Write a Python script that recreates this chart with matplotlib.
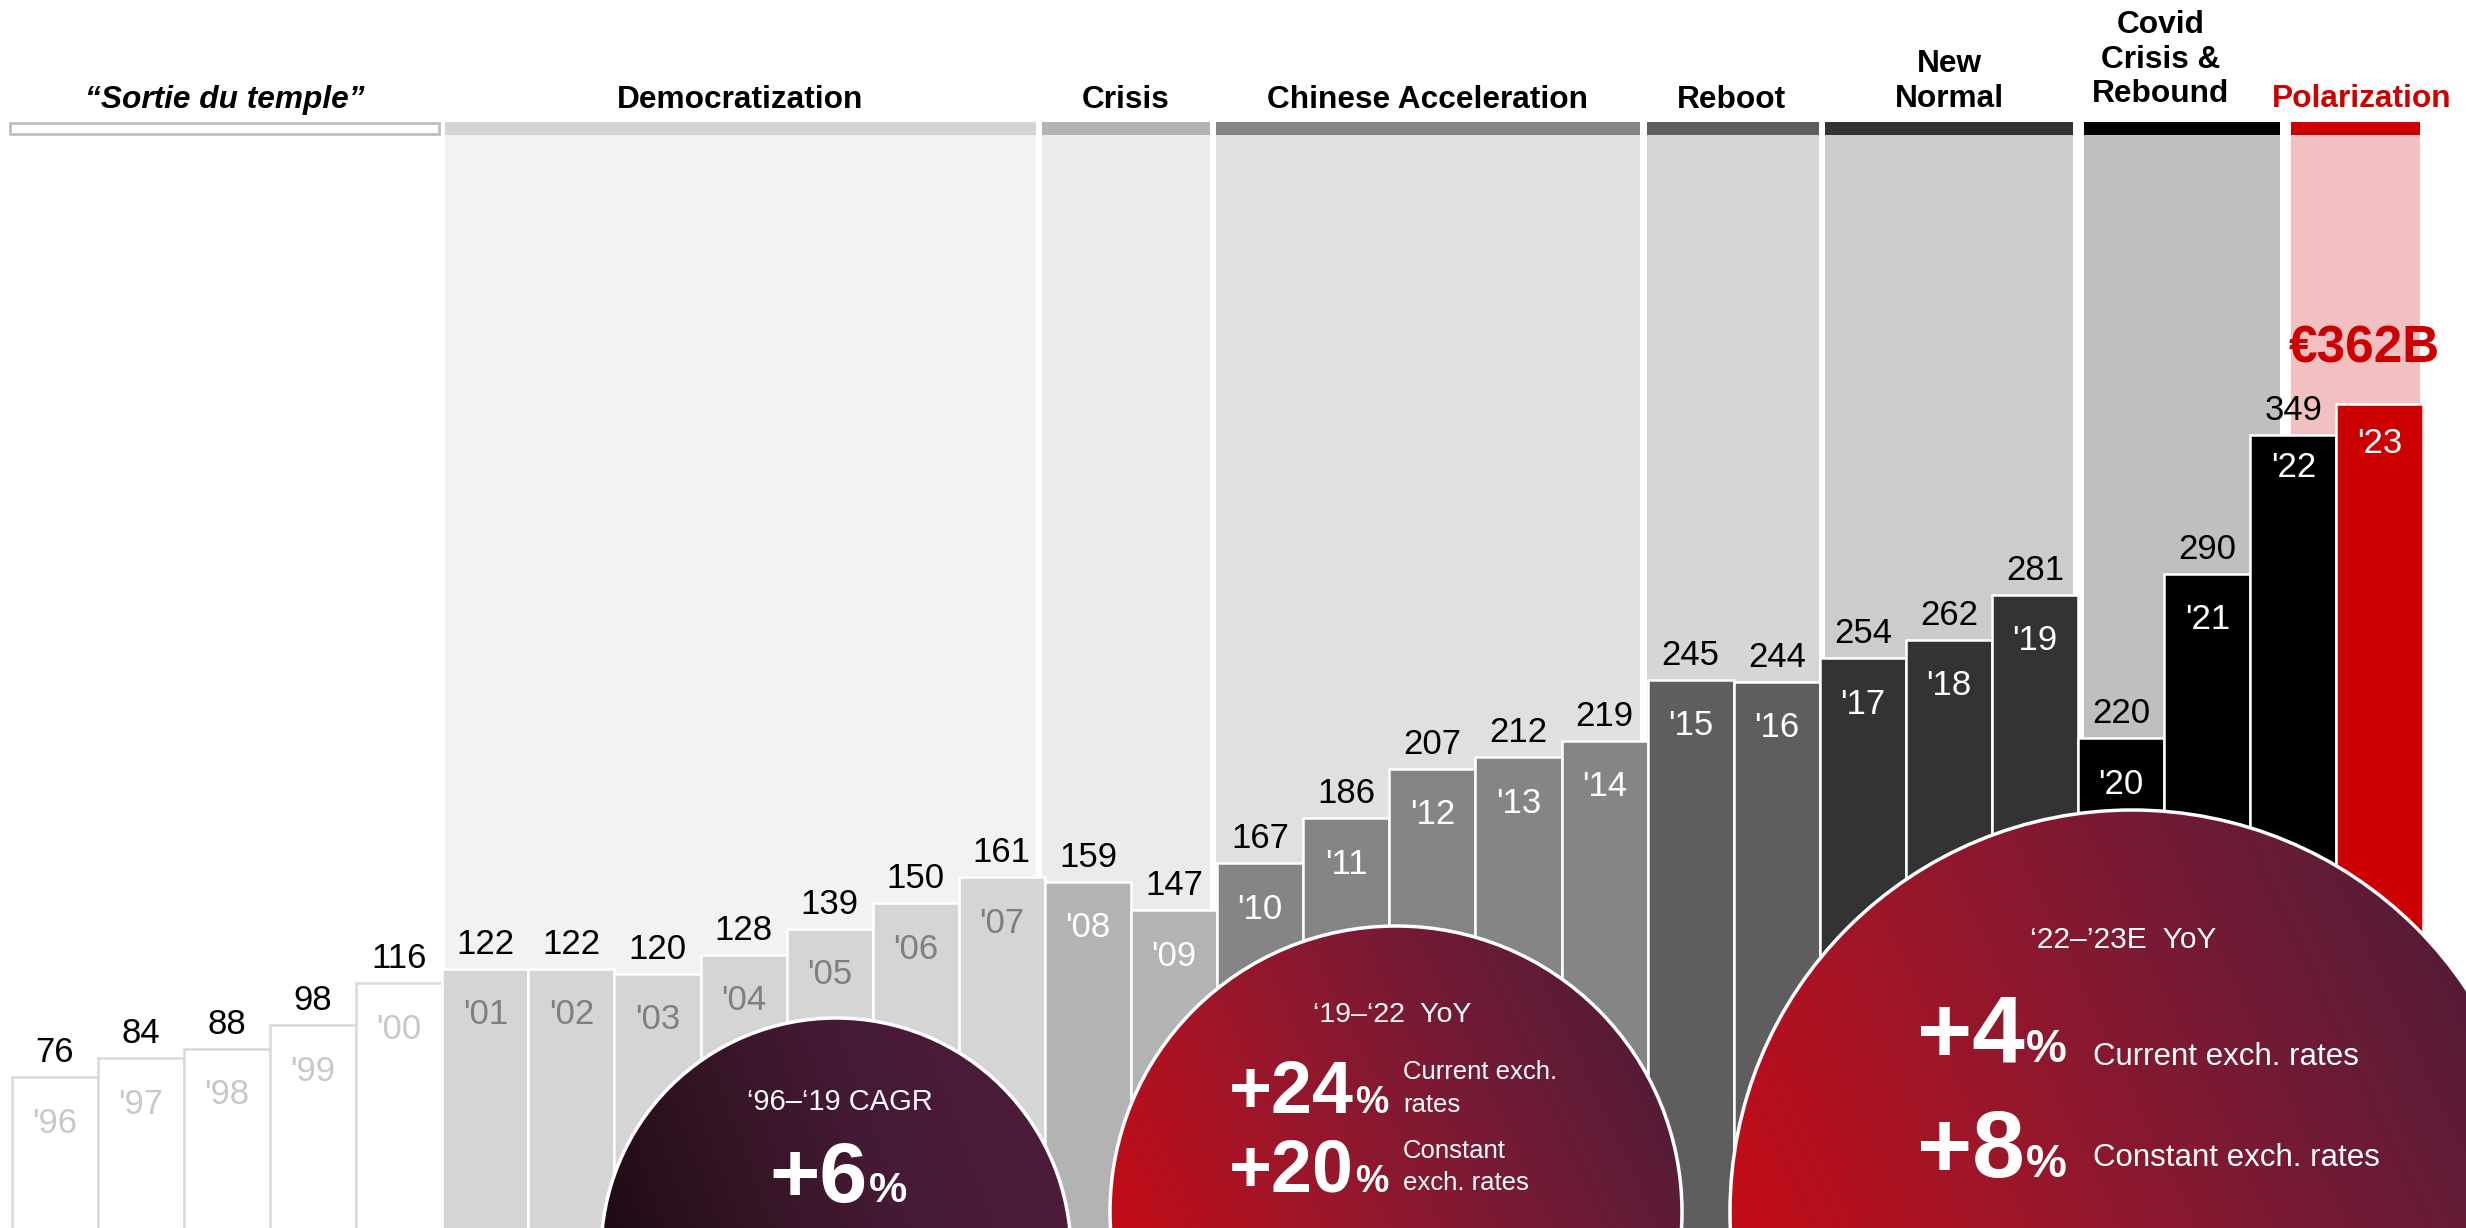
import numpy as np
import matplotlib
matplotlib.use('Agg')
import matplotlib.pyplot as plt
from matplotlib.patches import Rectangle, Circle
from matplotlib.colors import LinearSegmentedColormap

plt.rcParams['font.family'] = ['Liberation Sans', 'DejaVu Sans']

# ---------------- data ----------------
years = ["'96", "'97", "'98", "'99", "'00", "'01", "'02", "'03", "'04", "'05",
         "'06", "'07", "'08", "'09", "'10", "'11", "'12", "'13", "'14", "'15",
         "'16", "'17", "'18", "'19", "'20", "'21", "'22", "'23"]
values = [76, 84, 88, 98, 116, 122, 122, 120, 128, 139,
          150, 161, 159, 147, 167, 186, 207, 212, 219, 245,
          244, 254, 262, 281, 220, 290, 349, 362]
value_labels = [str(v) for v in values[:-1]] + [""]
total_label = "€362B"

bar_colors = ['#ffffff'] * 5 + ['#d5d5d5'] * 7 + ['#b3b3b3'] * 2 + ['#858585'] * 5 + \
             ['#5e5e5e'] * 2 + ['#333333'] * 3 + ['#000000'] * 3 + ['#cc0000']
bar_edges = ['#d9d9d9'] * 5 + ['#ffffff'] * 23
year_colors = ['#c8c8c8'] * 5 + ['#7f7f7f'] * 7 + ['#ffffff'] * 16
year_offsets = [46] * 26 + [33, 39]

phase_names = ['\u201cSortie du temple\u201d', 'Democratization', 'Crisis', 'Chinese Acceleration',
               'Reboot', 'New\nNormal', 'Covid\nCrisis &\nRebound', 'Polarization']
phase_start = [-0.52, 4.53, 11.47, 13.49, 18.49, 20.56, 23.57, 25.97]
phase_end = [4.46, 11.40, 13.42, 18.41, 20.49, 23.44, 25.84, 27.47]
phase_text_x = [1.98, 7.96, 12.44, 15.94, 19.47, 22.0, 24.46, 26.79]
phase_baseline_px = [108, 108, 108, 108, 108, 107, 102, 107]
header_colors = ['#ffffff', '#d4d4d4', '#b3b3b3', '#858585', '#5e5e5e', '#333333', '#000000', '#cc0000']
panel_colors = [None, '#f2f2f2', '#ebebeb', '#e0e0e0', '#d6d6d6', '#cccccc', '#bfbfbf', '#f2c0c0']
phase_text_colors = ['black'] * 7 + ['#cc0000']

# ---------------- figure ----------------
W, H = 2466, 1228
fig = plt.figure(figsize=(W / 100, H / 100), dpi=100)
ax = fig.add_axes([0, 0, 1, 1])
ax.set_xlim(-0.636, 28.005)
ax.set_ylim(11.9, 533.8)
ax.axis('off')

xt = ax.get_xaxis_transform()

def frac(px):
    return 1 - px / H

# panels and headers
for name, s, e, tx, bl, hc, pc, tc in zip(phase_names, phase_start, phase_end, phase_text_x,
                                          phase_baseline_px, header_colors, panel_colors,
                                          phase_text_colors):
    if pc is not None:
        ax.add_patch(Rectangle((s, 0), e - s, frac(135), transform=xt, facecolor=pc,
                               edgecolor='none', zorder=1))
    if hc == '#ffffff':
        ax.add_patch(Rectangle((s, frac(134)), e - s, frac(123) - frac(134), transform=xt,
                               facecolor='white', edgecolor='#bfbfbf', lw=2, zorder=2))
    else:
        ax.add_patch(Rectangle((s, frac(135)), e - s, frac(122) - frac(135), transform=xt,
                               facecolor=hc, edgecolor='none', zorder=2))
    lines = name.split('\n')
    for k, line in enumerate(reversed(lines)):
        style = 'italic' if k == 0 and name.startswith('\u201c') else 'normal'
        ax.text(tx, frac(bl - 34.5 * k), line, transform=xt, ha='center', va='baseline',
                fontsize=22.8, fontweight='bold', color=tc, style=style, zorder=3)

# bars
x = np.arange(len(values))
ax.bar(x, values, width=1.0, color=bar_colors, edgecolor=bar_edges, linewidth=1.8, zorder=4)

for i, (v, yl, lab, yc, yo) in enumerate(zip(values, years, value_labels, year_colors, year_offsets)):
    if lab:
        ax.annotate(lab, (i, v), xytext=(0, 15), textcoords='offset pixels', ha='center',
                    va='baseline', fontsize=25, color='black', zorder=5)
    ax.annotate(yl, (i, v), xytext=(0, -yo), textcoords='offset pixels', ha='center',
                va='center', fontsize=25, color=yc, zorder=5)

ax.annotate(total_label, (len(values) - 1, values[-1]), xytext=(-15, 42), textcoords='offset pixels',
            ha='center', va='baseline', fontsize=37, fontweight='bold', color='#cc0000', zorder=5)

# ---------------- overlay (bubbles) ----------------
ov = fig.add_axes([0, 0, 1, 1], zorder=10)
ov.patch.set_alpha(0)
ov.axis('off')


def grad_circle(cx, cy, r, colors, angle_deg):
    n = 500
    xs = np.linspace(cx - r, cx + r, n)
    ys = np.linspace(cy - r, cy + r, n)
    X, Y = np.meshgrid(xs, ys)
    a = np.deg2rad(angle_deg)
    t = ((X - cx) * np.cos(a) - (Y - cy) * np.sin(a)) / (2 * r) + 0.5
    t = np.clip(t, 0, 1)
    cmap = LinearSegmentedColormap.from_list('g', colors)
    im = ov.imshow(t, extent=(cx - r, cx + r, cy + r, cy - r), cmap=cmap, vmin=0, vmax=1,
                   zorder=1, interpolation='bilinear')
    c = Circle((cx, cy), r, facecolor='none', edgecolor='white', lw=2.5, zorder=2)
    ov.add_patch(c)
    im.set_clip_path(c)


red_grad = ['#c80a14', '#a11628', '#7a1a34', '#561c38']
grad_circle(836, 1253, 235, ['#1a0a12', '#331424', '#461a36', '#4c1c3a'], 20)
grad_circle(1396, 1212, 286, red_grad, 25)
grad_circle(2132, 1212, 402, red_grad, 25)

ov.set_xlim(0, W)
ov.set_ylim(H, 0)
ov.set_aspect('auto')

wt = dict(color='white', zorder=5)
# bubble 1
ov.text(840, 1102, '\u201896\u2013\u201819 CAGR', ha='center', va='center', fontsize=21, **wt)
ov.text(868, 1202, '+6', ha='right', va='baseline', fontsize=62, fontweight='bold', **wt)
ov.text(869, 1202, '%', ha='left', va='baseline', fontsize=31, fontweight='bold', **wt)
# bubble 2
ov.text(1392, 1015, '\u201819\u2013\u201822  YoY', ha='center', va='center', fontsize=20.5, **wt)
ov.text(1354, 1113, '+24', ha='right', va='baseline', fontsize=53, fontweight='bold', **wt)
ov.text(1355, 1113, '%', ha='left', va='baseline', fontsize=27, fontweight='bold', **wt)
ov.text(1403, 1079, 'Current exch.', ha='left', va='baseline', fontsize=18.5, **wt)
ov.text(1403, 1112, 'rates', ha='left', va='baseline', fontsize=18.5, **wt)
ov.text(1354, 1192, '+20', ha='right', va='baseline', fontsize=53, fontweight='bold', **wt)
ov.text(1355, 1192, '%', ha='left', va='baseline', fontsize=27, fontweight='bold', **wt)
ov.text(1403, 1158, 'Constant', ha='left', va='baseline', fontsize=18.5, **wt)
ov.text(1403, 1190, 'exch. rates', ha='left', va='baseline', fontsize=18.5, **wt)
# bubble 3
ov.text(2123, 948, '\u201822\u2013\u201923E  YoY', ha='center', va='baseline', fontsize=21.5, **wt)
ov.text(2025, 1062, '+4', ha='right', va='baseline', fontsize=68, fontweight='bold', **wt)
ov.text(2026, 1062, '%', ha='left', va='baseline', fontsize=33, fontweight='bold', **wt)
ov.text(2093, 1065, 'Current exch. rates', ha='left', va='baseline', fontsize=22.5, **wt)
ov.text(2025, 1177, '+8', ha='right', va='baseline', fontsize=68, fontweight='bold', **wt)
ov.text(2026, 1177, '%', ha='left', va='baseline', fontsize=33, fontweight='bold', **wt)
ov.text(2093, 1166, 'Constant exch. rates', ha='left', va='baseline', fontsize=22.5, **wt)

fig.savefig('out.png', dpi=100)
